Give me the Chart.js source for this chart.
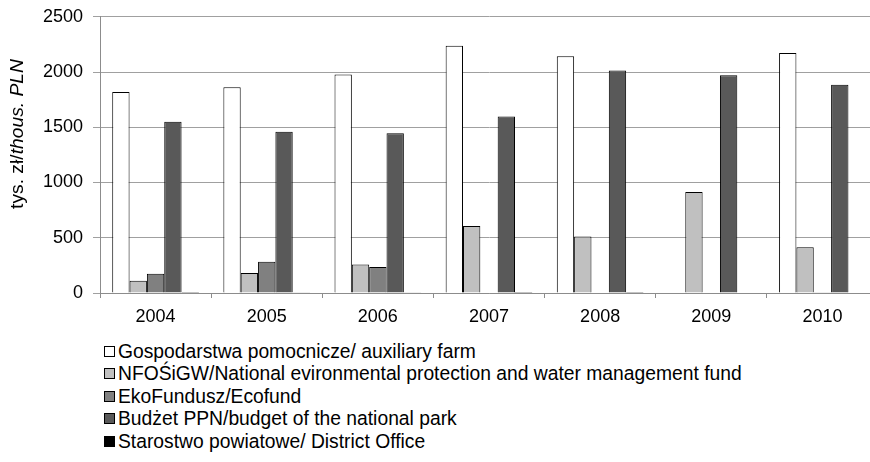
<!DOCTYPE html>
<html>
<head>
<meta charset="utf-8">
<script src="https://cdn.jsdelivr.net/npm/chart.js@4/dist/chart.umd.min.js"></script>
<style>
  html, body { margin: 0; padding: 0; background: #fff; overflow: hidden; }
  #wrap { position: relative; width: 878px; height: 462px; }
  #chartBox { position: absolute; left: 0; top: -4px; width: 878px; height: 334px; }
  #legend { position: absolute; left: 104px; top: 341px; font-family: "Liberation Sans", Arial, sans-serif; font-size: 19.3px; color: #000; }
  #legend .row { height: 22.4px; line-height: 22.4px; white-space: nowrap; }
  #legend .box { display: inline-block; width: 9px; height: 9px; border: 1px solid #000; margin-right: 3px; vertical-align: 1px; }
</style>
</head>
<body>
<div id="wrap">
  <div id="chartBox"><canvas id="c"></canvas></div>
  <div id="legend"></div>
</div>
<script>
// ======= DATA =======
const years = ["2004","2005","2006","2007","2008","2009","2010"];
const gospodarstwa = [1820, 1862, 1977, 2238, 2142, null, 2172];
const nfosigw      = [110, 180, 258, 607, 512, 914, 415];
const ekofundusz   = [175, 283, 235, null, null, null, 6];
const budzetPPN    = [1550, 1459, 1447, 1597, 2013, 1970, 1886];
const starostwo    = [8, 6, 6, 8, 8, null, null];
const yTicks = [0, 500, 1000, 1500, 2000, 2500];

const seriesNames = [
  "Gospodarstwa pomocnicze/ auxiliary farm",
  "NFOŚiGW/National evironmental protection and water management fund",
  "EkoFundusz/Ecofund",
  "Budżet PPN/budget of the national park",
  "Starostwo powiatowe/ District Office"
];
const seriesColors = ["#ffffff", "#c0c0c0", "#808080", "#595959", "#000000"];
const seriesValues = [gospodarstwa, nfosigw, ekofundusz, budzetPPN, starostwo];

const FONT = '"Liberation Sans", Arial, sans-serif';

// ======= Y TITLE (regular + italic part) =======
const yTitlePlugin = {
  id: "yTitle",
  afterDraw(chart){
    const ctx = chart.ctx;
    const part1 = "tys. zł/", part2 = "thous. PLN";
    const measure = size => {
      ctx.font = size + "px " + FONT;
      const a = ctx.measureText(part1).width;
      ctx.font = "italic " + size + "px " + FONT;
      return [a, ctx.measureText(part2).width];
    };
    // fit the title to the length it has in the reference (~150px)
    let [w1, w2] = measure(18);
    const size = 18 * 150 / (w1 + w2);
    [w1, w2] = measure(size);
    ctx.save();
    ctx.translate(18, 138);
    ctx.rotate(-Math.PI/2);
    ctx.textBaseline = "middle";
    ctx.fillStyle = "#000";
    const x = -(w1 + w2) / 2;
    ctx.font = size + "px " + FONT;
    ctx.fillText(part1, x, 0);
    ctx.font = "italic " + size + "px " + FONT;
    ctx.fillText(part2, x + w1, 0);
    ctx.restore();
  }
};

new Chart(document.getElementById("c"), {
  type: "bar",
  data: {
    labels: years,
    datasets: seriesNames.map((n, i) => ({
      label: n,
      data: seriesValues[i],
      backgroundColor: seriesColors[i],
      borderColor: "#000",
      borderWidth: 1,
      categoryPercentage: 0.78,
      barPercentage: 1
    }))
  },
  options: {
    responsive: true,
    maintainAspectRatio: false,
    animation: false,
    layout: { padding: { top: 6, right: 0, left: 0, bottom: 0 } },
    plugins: { legend: { display: false }, tooltip: { enabled: false } },
    scales: {
      x: {
        grid: { display: true, drawOnChartArea: false, drawTicks: true, tickLength: 5, color: "#8c8c8c", offset: true },
        border: { color: "#8c8c8c", width: 1 },
        ticks: { font: { family: FONT, size: 18 }, color: "#000", padding: 8 },
        afterFit(s){ s.height = 37; }
      },
      y: {
        min: 0, max: 2500,
        afterBuildTicks(s){ s.ticks = yTicks.map(v => ({ value: v })); },
        grid: { color: "#a0a0a0", drawTicks: true, tickLength: 7, lineWidth: 1 },
        border: { color: "#8c8c8c", width: 1 },
        ticks: { font: { family: FONT, size: 18 }, color: "#000", padding: 10, callback: v => String(v) },
        afterFit(s){ s.width = 100; }
      }
    }
  },
  plugins: [yTitlePlugin]
});

// ======= LEGEND =======
const legend = document.getElementById("legend");
seriesNames.forEach((n, i) => {
  const row = document.createElement("div");
  row.className = "row";
  const box = document.createElement("span");
  box.className = "box";
  box.style.background = seriesColors[i];
  row.appendChild(box);
  row.appendChild(document.createTextNode(n));
  legend.appendChild(row);
});
</script>
</body>
</html>
